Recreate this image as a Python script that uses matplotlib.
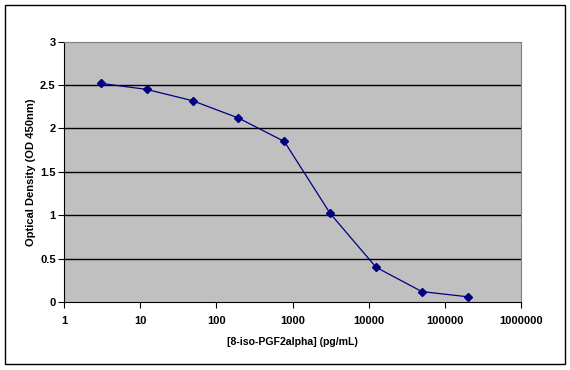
import matplotlib.pyplot as plt
from matplotlib.patches import Rectangle

# 4-fold dilution series (pg/mL) and measured OD
conc = [3.05, 12.2, 48.8, 195.3, 781.25, 3125, 12500, 50000, 200000]
od = [2.52, 2.45, 2.32, 2.12, 1.85, 1.02, 0.40, 0.12, 0.06]
xticks = [1, 10, 100, 1000, 10000, 100000, 1000000]
yticks = [0, 0.5, 1, 1.5, 2, 2.5, 3]

plt.rcParams['font.family'] = ['Liberation Sans', 'DejaVu Sans']
plt.rcParams['font.weight'] = 'bold'

fig = plt.figure(figsize=(5.7, 3.7), dpi=100)
fig.patches.append(Rectangle((5/570, 6/370), 560/570, 359/370, transform=fig.transFigure,
                             fill=False, edgecolor='black', linewidth=1.0))

ax = fig.add_axes([64/570, 68/370, 457/570, 260.3/370])
ax.set_facecolor('#c0c0c0')
ax.plot(conc, od, color='#000080', linewidth=0.9, marker='D', markersize=3.8,
        markerfacecolor='#000080', markeredgecolor='#000080', zorder=3)
ax.set_xscale('log')
ax.set_xlim(1, 1000000)
ax.set_ylim(0, 3)
ax.set_xticks(xticks)
ax.set_xticklabels([str(t) for t in xticks])
ax.minorticks_off()
ax.set_yticks(yticks)
ax.set_yticklabels(['0', '0.5', '1', '1.5', '2', '2.5', '3'])
for y in yticks[1:-1]:
    ax.axhline(y, color='black', linewidth=1.0, zorder=1)
ax.tick_params(axis='both', direction='out', length=4, width=0.8, labelsize=8, colors='black')
ax.tick_params(axis='x', pad=6)
ax.tick_params(axis='y', pad=2)
for s in ['top', 'right']:
    ax.spines[s].set_color('#808080')
for s in ['left', 'bottom']:
    ax.spines[s].set_color('black')
ax.set_xlabel('[8-iso-PGF2alpha] (pg/mL)', fontsize=7.6, fontweight='bold', labelpad=8)
ax.set_ylabel('Optical Density (OD 450nm)', fontsize=8, fontweight='bold', labelpad=3)

plt.savefig('out.png', dpi=100)
